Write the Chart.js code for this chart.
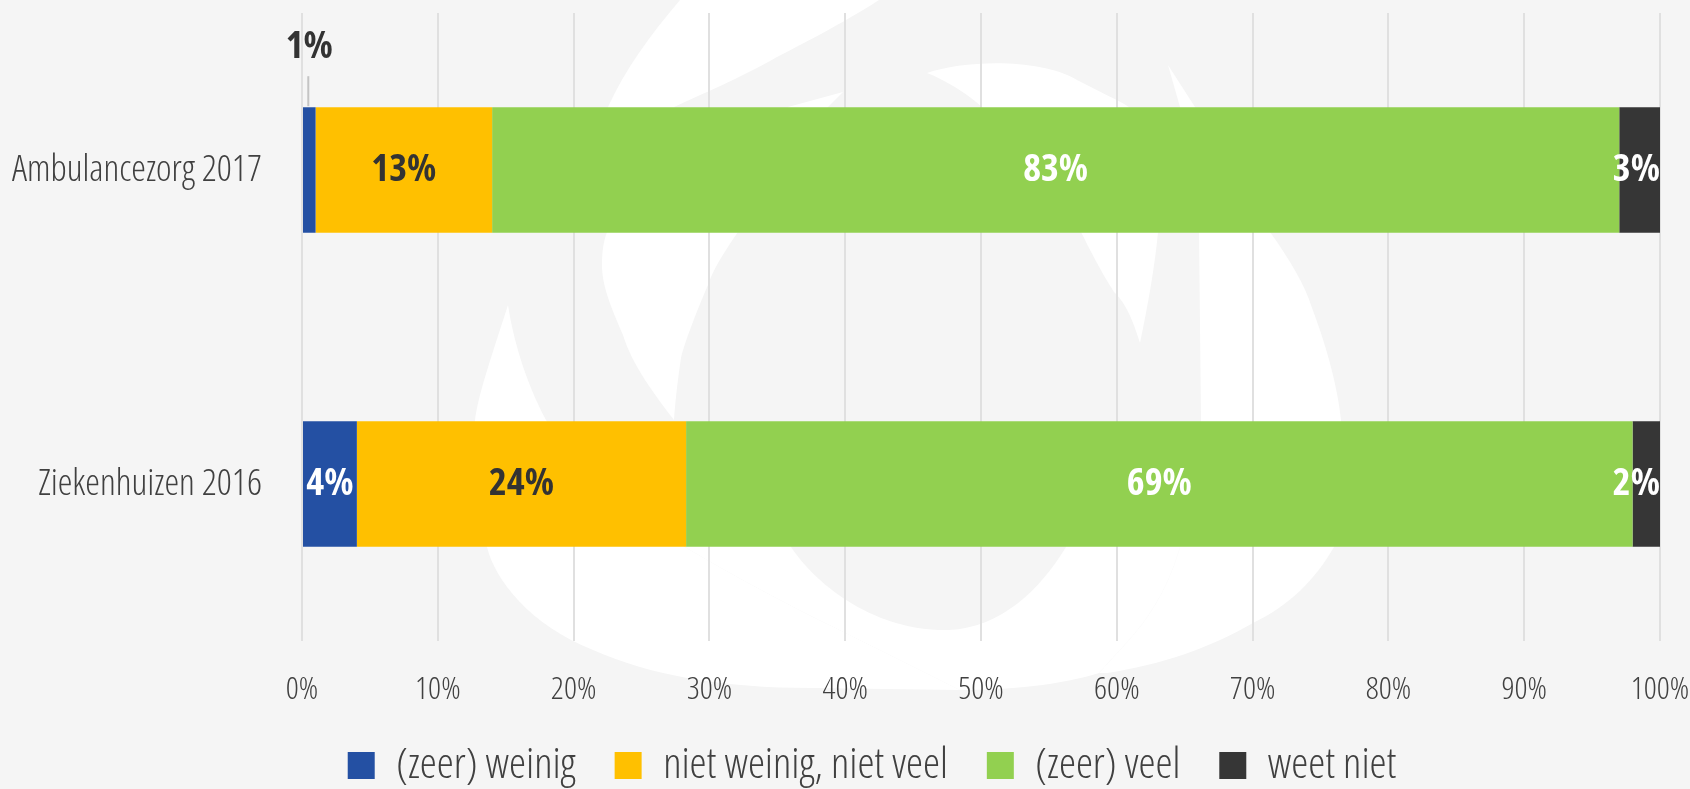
<!DOCTYPE html>
<html>
<head>
<meta charset="utf-8">
<script src="https://cdn.jsdelivr.net/npm/chart.js@4.4.1/dist/chart.umd.min.js"></script>
<style>
  html, body { margin: 0; padding: 0; background: #f5f5f5; }
  #wrap { position: relative; width: 1690px; height: 789px; }
</style>
</head>
<body>
<div id="wrap"><canvas id="chart"></canvas></div>
<script>
// Data
const categories = ['Ambulancezorg 2017', 'Ziekenhuizen 2016'];
const seriesLabels = ['(zeer) weinig', 'niet weinig, niet veel', '(zeer) veel', 'weet niet'];
const weinig = [1, 4];
const nietWeinigNietVeel = [13, 24];
const veel = [83, 69];
const weetNiet = [3, 2];
const xMin = 0;
const xMax = 100;
const xStep = 10;

const seriesColors = ['#2450a3', '#ffc000', '#92d050', '#363636'];
const labelColors = ['#ffffff', '#333333', '#ffffff', '#ffffff'];

const rawSeries = [weinig, nietWeinigNietVeel, veel, weetNiet];

// 100% stacked: each row scaled to its own total
const rowTotals = categories.map((_, j) => rawSeries.reduce((s, arr) => s + arr[j], 0));
const share = arr => arr.map((v, j) => v / rowTotals[j] * 100);

// Pick a condensed face if one is installed
const probe = document.createElement('canvas').getContext('2d');
function probeWidth(font) {
    probe.font = font;
    return probe.measureText('Ambulancezorg 2017').width;
}
let family = '"Open Sans", sans-serif';
let lightWeight = '300';
let boldWeight = 'bold';
if (probeWidth('300 condensed 40px "Open Sans"') < probeWidth('300 40px "Open Sans"') * 0.92) {
    lightWeight = '300 condensed';
    boldWeight = 'bold condensed';
} else if (probeWidth('40px "Liberation Sans Narrow", monospace') !== probeWidth('40px monospace')) {
    family = '"Liberation Sans Narrow", sans-serif';
    lightWeight = 'normal';
}

// Background logo (decoration only)
const logoWhite = [
    'M508,305 C492,355 478,395 475,420 C468,470 472,515 487,547 C495,580 530,625 593,650 C650,675 720,688 813,688 L960,690 C900,660 840,630 813,617 C760,590 715,565 685,547 C630,505 575,465 546,420 C530,390 515,350 508,305 Z',
    'M680,0 L879,0 C840,25 800,45 777,57 C740,78 700,95 674,107 L760,170 L788,107 L843,92 L828,107 C800,150 760,200 738,232 C722,255 712,272 708,285 C695,315 684,345 681,358 C677,385 675,405 674,420 C655,395 632,365 623,335 C610,305 602,285 602,265 C602,250 604,240 607,232 L608,107 C625,70 650,35 680,0 Z',
    'M927,73 C965,60 1040,58 1077,80 C1100,92 1118,100 1129,107 L1158,232 C1155,265 1148,305 1140,343 C1130,310 1122,300 1114,292 C1100,270 1090,250 1081,232 L982,107 C965,92 945,80 927,73 Z',
    'M1168,65 L1195,107 C1230,160 1255,200 1270,232 C1290,260 1305,285 1312,308 C1328,350 1338,390 1341,420 C1345,470 1343,510 1334,547 C1315,580 1290,605 1253,623 C1210,648 1160,665 1107,673 L1099,673 C1115,655 1130,640 1143,623 C1160,600 1172,575 1180,547 C1195,500 1201,460 1201,420 L1199,232 L1180,107 Z',
    'M685,450 L1195,450 L1180,547 C1172,575 1160,600 1143,623 C1130,640 1115,655 1099,673 C1060,685 1010,690 960,690 C900,660 840,630 813,617 C760,590 715,565 685,547 Z'
];
const logoHole = 'M791,450 L791,547 C820,590 880,632 949,630 C1000,628 1040,590 1066,547 L1066,450 Z';

const watermark = {
    id: 'watermark',
    beforeDraw(chart) {
        const ctx = chart.ctx;
        ctx.save();
        ctx.fillStyle = '#f5f5f5';
        ctx.fillRect(0, 0, chart.width, chart.height);
        ctx.fillStyle = '#ffffff';
        logoWhite.forEach(d => ctx.fill(new Path2D(d)));
        ctx.fillStyle = '#f5f5f5';
        ctx.fill(new Path2D(logoHole));
        ctx.restore();
    }
};

// Legend sits a bit right of centre and closer to the axis than Chart.js puts it
const legendNudge = {
    id: 'legendNudge',
    afterLayout(chart) {
        chart.legend.left = 84;
        chart.legend.top -= 6;
    }
};

// Value labels on the bars
const valueLabels = {
    id: 'valueLabels',
    afterDatasetsDraw(chart) {
        const ctx = chart.ctx;
        const area = chart.chartArea;
        ctx.save();
        ctx.font = boldWeight + ' 38px ' + family;
        ctx.textAlign = 'center';
        ctx.textBaseline = 'middle';
        chart.data.datasets.forEach((ds, i) => {
            chart.getDatasetMeta(i).data.forEach((bar, j) => {
                const text = rawSeries[i][j] + '%';
                const tw = ctx.measureText(text).width;
                const w = Math.abs(bar.x - bar.base);
                let x = (bar.x + bar.base) / 2;
                if (w < 20) {
                    // too thin: label above with a small leader line
                    const top = bar.y - bar.height / 2;
                    ctx.strokeStyle = '#c4c4c4';
                    ctx.lineWidth = 2;
                    ctx.beginPath();
                    ctx.moveTo(x - 1, top - 1);
                    ctx.lineTo(x - 1, top - 31);
                    ctx.stroke();
                    ctx.fillStyle = '#333333';
                    ctx.fillText(text, x, top - 60);
                    return;
                }
                x = Math.min(x, area.right - tw / 2);
                ctx.fillStyle = labelColors[i];
                ctx.fillText(text, x, bar.y);
            });
        });
        ctx.restore();
    }
};

const datasets = seriesLabels.map((label, i) => ({
    label: label,
    data: share(rawSeries[i]),
    backgroundColor: seriesColors[i],
    borderWidth: 0,
    categoryPercentage: 1,
    barPercentage: 0.4
}));

new Chart(document.getElementById('chart'), {
    type: 'bar',
    data: { labels: categories, datasets: datasets },
    plugins: [watermark, legendNudge, valueLabels],
    options: {
        indexAxis: 'y',
        responsive: true,
        maintainAspectRatio: false,
        animation: false,
        layout: { padding: { left: 0, right: 30, top: 13, bottom: 0 } },
        scales: {
            x: {
                stacked: true,
                min: xMin,
                max: xMax,
                ticks: {
                    stepSize: xStep,
                    padding: 30,
                    color: '#404040',
                    font: { family: family, weight: lightWeight, size: 32 },
                    callback: v => v + '%'
                },
                grid: { color: '#e0e0e0', lineWidth: 2, drawTicks: false },
                border: { display: false },
                afterFit: scale => {
                    scale.height = 70;
                    scale.paddingLeft = 0;
                    scale.paddingRight = 0;
                }
            },
            y: {
                stacked: true,
                ticks: {
                    padding: 40,
                    color: '#404040',
                    font: { family: family, weight: lightWeight, size: 37 }
                },
                grid: { display: false, drawTicks: false, tickLength: 0 },
                border: { display: false },
                afterFit: scale => {
                    scale.width = 302;
                    scale.paddingTop = 0;
                    scale.paddingBottom = 0;
                }
            }
        },
        plugins: {
            legend: {
                position: 'bottom',
                maxHeight: 78,
                labels: {
                    boxWidth: 27,
                    boxHeight: 27,
                    padding: 39,
                    color: '#404040',
                    font: { family: family, weight: lightWeight, size: 43 }
                }
            },
            tooltip: { enabled: false }
        }
    }
});
</script>
</body>
</html>
